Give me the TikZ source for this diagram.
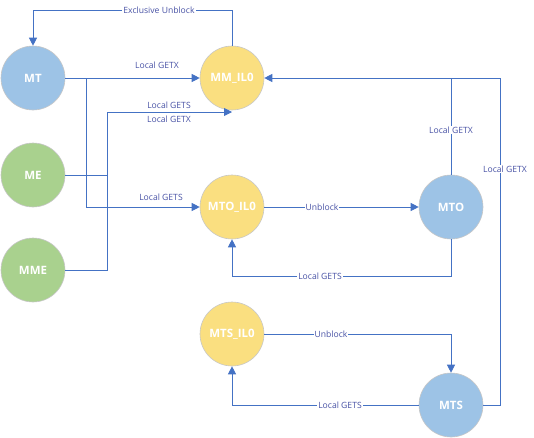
\documentclass[tikz,border=0pt]{standalone}
\usepackage{fontspec}
\setmainfont{Open Sans}
\usetikzlibrary{arrows.meta}
\definecolor{nblue}{RGB}{157,195,230}
\definecolor{ngreen}{RGB}{169,209,142}
\definecolor{nyellow}{RGB}{250,223,128}
\definecolor{lineblue}{RGB}{68,114,196}
\definecolor{lbl}{RGB}{72,82,165}
\tikzset{
  st/.style={circle, minimum size=64pt, inner sep=0pt, draw=black!22, line width=0.6pt,
             text=white, font=\fontsize{11.5}{13}\selectfont\bfseries},
  bst/.style={st, fill=nblue},
  gst/.style={st, fill=ngreen},
  yst/.style={st, fill=nyellow},
  conn/.style={draw=lineblue, line width=0.9pt},
  arr/.style={conn, -{Triangle[length=8pt,width=8pt]}},
  lab/.style={text=lbl, font=\fontsize{8.6}{10}\selectfont, inner sep=1pt},
  onlab/.style={lab, fill=white},
}
\begin{document}
\begin{tikzpicture}[x=1pt,y=-1pt]
\useasboundingbox (0,0) rectangle (534,437);
\node[bst] (MT) at (33,78) {MT};
\node[gst] (ME) at (33,175) {ME};
\node[gst] (MME) at (33,270) {MME};
\node[yst] (MM) at (232,78) {MM\_IL0};
\node[yst] (MTOI) at (232,207) {MTO\_IL0};
\node[bst] (MTO) at (451,207) {MTO};
\node[yst] (MTSI) at (232,334) {MTS\_IL0};
\node[bst] (MTS) at (451,405) {MTS};
\coordinate (exA) at (232,10);
\coordinate (exB) at (33,10);
\coordinate (b1) at (86,78);
\coordinate (b2) at (86,207);
\coordinate (c1) at (107,175);
\coordinate (c2) at (107,270);
\coordinate (c3) at (107,112);
\coordinate (c4) at (232,112);
\coordinate (o1) at (451,78);
\coordinate (s1) at (500,405);
\coordinate (s2) at (500,78);
\coordinate (g1) at (451,276);
\coordinate (g2) at (232,276);
\coordinate (u1) at (451,334);
\coordinate (t1) at (232,405);
% Exclusive Unblock
\draw[arr] (MM.north) -- (exA) -- (exB) -- (MT.north);
\node[onlab] (lex) at (159,10) {Exclusive Unblock};
% MT -> MM_IL0
\draw[arr] (MT.east) -- (MM.west);
\node[lab] (l1) at (157,65) {Local GETX};
% MT -> MTO_IL0
\draw[arr] (b1) -- (b2) -- (MTOI.west);
\node[lab] (l2) at (161,197) {Local GETS};
% ME, MME -> MM_IL0
\draw[conn] (ME.east) -- (c1);
\draw[conn] (MME.east) -- (c2) -- (c3);
\draw[arr] (c3) -- (c4);
\node[lab] (l3) at (169,105) {Local GETS};
\node[lab] (l4) at (169,119) {Local GETX};
% MTO -> MM_IL0
\draw[arr] (MTO.north) -- (o1) -- (MM.east);
\node[onlab] (l5) at (451,130) {Local GETX};
% MTS -> MM_IL0
\draw[conn] (MTS.east) -- (s1) -- (s2) -- (o1);
\node[onlab] (l6) at (505,169) {Local GETX};
% MTO_IL0 -> MTO
\draw[arr] (MTOI.east) -- (MTO.west);
\node[onlab] (l7) at (322,207) {Unblock};
% MTO -> MTO_IL0
\draw[arr] (MTO.south) -- (g1) -- (g2) -- (MTOI.south);
\node[onlab] (l8) at (320,276) {Local GETS};
% MTS_IL0 -> MTS
\draw[arr] (MTSI.east) -- (u1) -- (MTS.north);
\node[onlab] (l9) at (331,334) {Unblock};
% MTS -> MTS_IL0
\draw[arr] (MTS.west) -- (t1) -- (MTSI.south);
\node[onlab] (l10) at (340,405) {Local GETS};
\end{tikzpicture}
\end{document}
